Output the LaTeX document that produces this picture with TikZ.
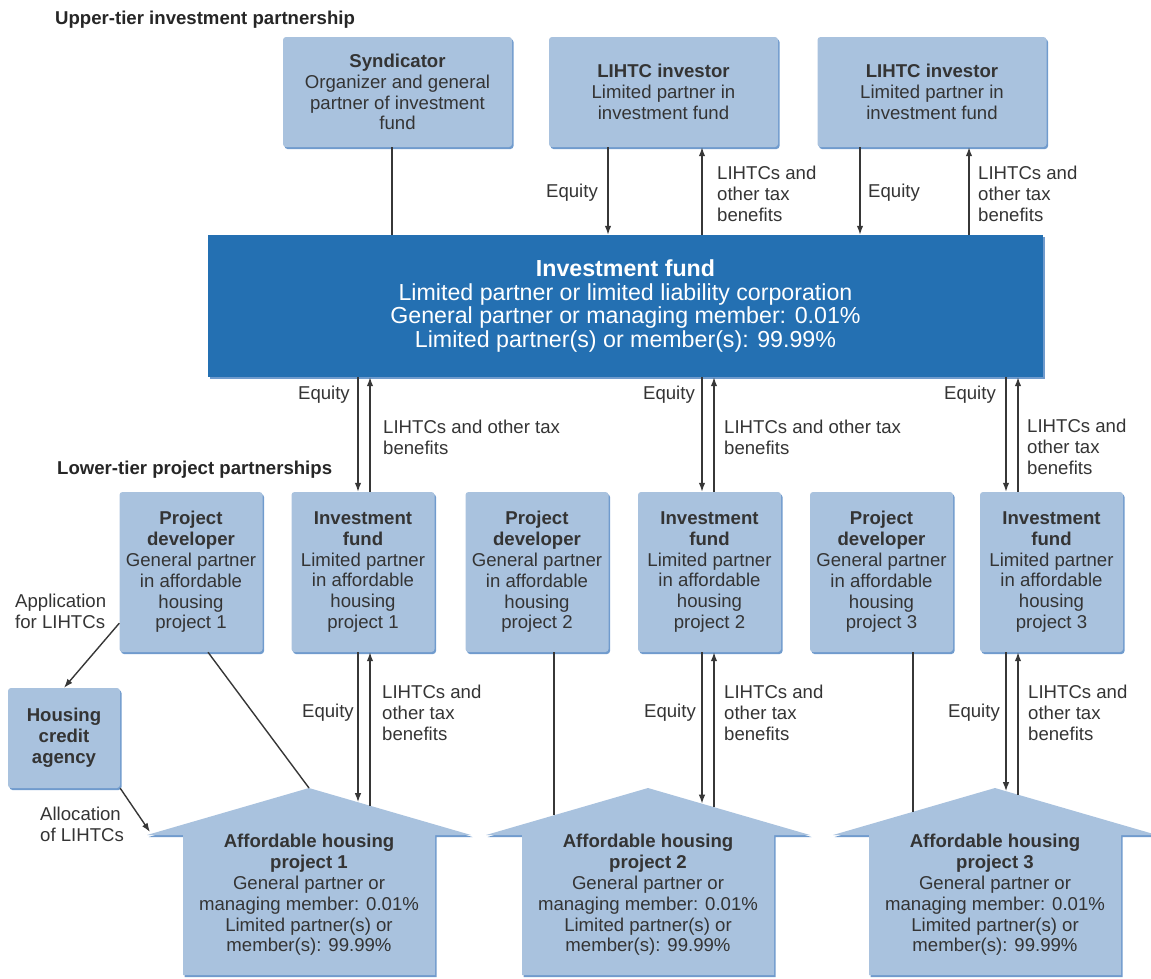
\documentclass[tikz,border=0pt]{standalone}
\usepackage{fontspec}
\setmainfont{Liberation Sans}
\usetikzlibrary{arrows.meta,shadows,calc}
\definecolor{boxc}{RGB}{169,194,222}
\definecolor{shadc}{RGB}{112,155,205}
\definecolor{bigc}{RGB}{36,112,178}
\definecolor{txtc}{RGB}{52,52,52}
\definecolor{linec}{RGB}{55,55,55}
\newcommand{\smallsz}{\fontsize{18.6pt}{20.8pt}\selectfont}
\newcommand{\bigsz}{\fontsize{23.2pt}{23.6pt}\selectfont}
\begin{document}
\begin{tikzpicture}[x=1pt,y=-1pt,
  lbox/.style={fill=boxc, rounded corners=3pt, inner sep=0pt, align=center, text=txtc, font=\smallsz,
    drop shadow={shadow xshift=1.5pt, shadow yshift=-2pt, fill=shadc, opacity=1}},
  topbox/.style={lbox, minimum width=229pt, minimum height=110pt},
  lowbox/.style={lbox, minimum width=143pt, minimum height=160pt},
  bigbox/.style={fill=bigc, text=white, font=\bigsz, align=center, inner sep=0pt,
    minimum width=835pt, minimum height=142pt,
    drop shadow={shadow xshift=1.5pt, shadow yshift=-2pt, fill=shadc, opacity=1}},
  housefill/.style={fill=boxc},
  houseshadow/.style={fill=shadc},
  housetext/.style={font=\smallsz, text=txtc, align=center, inner sep=0pt},
  arr/.style={draw=linec, line width=1.4pt, -{Latex[length=9pt,width=6.5pt]}},
  ln/.style={draw=linec, line width=1.4pt},
  lab/.style={font=\smallsz, text=txtc, align=left, inner sep=0pt},
  hd/.style={font=\smallsz\bfseries, text=black!85, inner sep=0pt}
]
\useasboundingbox (0,0) rectangle (1151,978);

% headers
\node[hd, anchor=west] (hup) at (55,20) {Upper-tier investment partnership};
\node[hd, anchor=west] (hlow) at (57,470) {Lower-tier project partnerships};

% top boxes
\node[topbox] (synd) at (397.5,92) {\textbf{Syndicator}\\Organizer and general\\partner of investment\\fund};
\node[topbox] (inv1) at (663.5,92) {\textbf{LIHTC investor}\\Limited partner in\\investment fund};
\node[topbox] (inv2) at (932,92) {\textbf{LIHTC investor}\\Limited partner in\\investment fund};

% investment fund
\node[bigbox] (fund) at (625.5,306) {\textbf{Investment fund}\\Limited partner or limited liability corporation\\General partner or managing member: 0.01\%\\Limited partner(s) or member(s): 99.99\%};

% lower boxes
\node[lowbox] (PD1) at (191,572) {\textbf{Project}\\\textbf{developer}\\General partner\\in affordable\\housing\\project 1};
\node[lowbox] (IF1) at (363,572) {\textbf{Investment}\\\textbf{fund}\\Limited partner\\in affordable\\housing\\project 1};
\node[lowbox] (PD2) at (537,572) {\textbf{Project}\\\textbf{developer}\\General partner\\in affordable\\housing\\project 2};
\node[lowbox] (IF2) at (709.5,572) {\textbf{Investment}\\\textbf{fund}\\Limited partner\\in affordable\\housing\\project 2};
\node[lowbox] (PD3) at (881.5,572) {\textbf{Project}\\\textbf{developer}\\General partner\\in affordable\\housing\\project 3};
\node[lowbox] (IF3) at (1051.5,572) {\textbf{Investment}\\\textbf{fund}\\Limited partner\\in affordable\\housing\\project 3};

\node[lbox, minimum width=112pt, minimum height=100pt] (HCA) at (64,738) {\textbf{Housing}\\\textbf{credit}\\\textbf{agency}};

% houses
\foreach \cx/\n in {309/1,648/2,995/3}{
  \begin{scope}[shift={(\cx,0)}]
    \path[houseshadow] (-124.5,977) -- (-124.5,837) -- (-160.5,837) -- (1.5,790) -- (163.5,837) -- (127.5,837) -- (127.5,977) -- cycle;
    \path[housefill] (-126,975) -- (-126,835) -- (-162,835) -- (0,788) -- (162,835) -- (126,835) -- (126,975) -- cycle;
    \coordinate (A\n) at (0,788);
  \end{scope}
}
\node[housetext] (H1) at (309,895) {\textbf{Affordable housing}\\\textbf{project 1}\\General partner or\\managing member: 0.01\%\\Limited partner(s) or\\member(s): 99.99\%};
\node[housetext] (H2) at (648,895) {\textbf{Affordable housing}\\\textbf{project 2}\\General partner or\\managing member: 0.01\%\\Limited partner(s) or\\member(s): 99.99\%};
\node[housetext] (H3) at (995,895) {\textbf{Affordable housing}\\\textbf{project 3}\\General partner or\\managing member: 0.01\%\\Limited partner(s) or\\member(s): 99.99\%};

% x positions
\coordinate (xS) at (392,0);
\coordinate (xE1) at (608,0);
\coordinate (xL1) at (702,0);
\coordinate (xE2) at (860,0);
\coordinate (xL2) at (969,0);
\coordinate (m1d) at (358,0);
\coordinate (m1u) at (370,0);
\coordinate (m2d) at (702,0);
\coordinate (m2u) at (714,0);
\coordinate (m3d) at (1006,0);
\coordinate (m3u) at (1018,0);
% roof points
\coordinate (r1d) at (358,802.2);
\coordinate (r1u) at (370,805.7);
\coordinate (r2d) at (702,803.7);
\coordinate (r2u) at (714,807.1);
\coordinate (r3d) at (1006,791.2);
\coordinate (r3u) at (1018,794.7);
\coordinate (r2p) at (554,815.3);
\coordinate (r3p) at (913,811.8);
\coordinate (al) at (150,832);

% upper connectors
\draw[ln] (synd.south -| xS) -- (fund.north -| xS);
\draw[arr] (inv1.south -| xE1) -- (fund.north -| xE1);
\draw[arr] (fund.north -| xL1) -- (inv1.south -| xL1);
\draw[arr] (inv2.south -| xE2) -- (fund.north -| xE2);
\draw[arr] (fund.north -| xL2) -- (inv2.south -| xL2);

% middle connectors
\draw[arr] (fund.south -| m1d) -- (IF1.north -| m1d);
\draw[arr] (IF1.north -| m1u) -- (fund.south -| m1u);
\draw[arr] (fund.south -| m2d) -- (IF2.north -| m2d);
\draw[arr] (IF2.north -| m2u) -- (fund.south -| m2u);
\draw[arr] (fund.south -| m3d) -- (IF3.north -| m3d);
\draw[arr] (IF3.north -| m3u) -- (fund.south -| m3u);

% lower connectors
\draw[arr] (IF1.south -| m1d) -- (r1d);
\draw[arr] (r1u) -- (IF1.south -| m1u);
\draw[arr] (IF2.south -| m2d) -- (r2d);
\draw[arr] (r2u) -- (IF2.south -| m2u);
\draw[arr] (IF3.south -| m3d) -- (r3d);
\draw[arr] (r3u) -- (IF3.south -| m3u);

\draw[ln] ($(PD1.south)+(17,0)$) -- (A1);
\draw[ln] (PD2.south -| r2p) -- (r2p);
\draw[ln] (PD3.south -| r3p) -- (r3p);

\draw[arr] ($(PD1.south west)+(0,-29)$) -- (HCA.north);
\draw[arr] (HCA.south east) -- (al);

% labels
\node[lab, anchor=east] (eq1) at (598,193) {Equity};
\node[lab, anchor=west] (tb1) at (717,194) {LIHTCs and\\other tax\\benefits};
\node[lab, anchor=west] (eq2) at (868,193) {Equity};
\node[lab, anchor=west] (tb2) at (978,194) {LIHTCs and\\other tax\\benefits};

\node[lab, anchor=east] (eq3) at (350,395) {Equity};
\node[lab, anchor=west] (tb3) at (383,437) {LIHTCs and other tax\\benefits};
\node[lab, anchor=east] (eq4) at (695,395) {Equity};
\node[lab, anchor=west] (tb4) at (724,437) {LIHTCs and other tax\\benefits};
\node[lab, anchor=east] (eq5) at (996,395) {Equity};
\node[lab, anchor=west] (tb5) at (1027,447) {LIHTCs and\\other tax\\benefits};

\node[lab, anchor=east] (eq6) at (354,713) {Equity};
\node[lab, anchor=west] (tb6) at (382,713) {LIHTCs and\\other tax\\benefits};
\node[lab, anchor=east] (eq7) at (696,713) {Equity};
\node[lab, anchor=west] (tb7) at (724,713) {LIHTCs and\\other tax\\benefits};
\node[lab, anchor=east] (eq8) at (1000,713) {Equity};
\node[lab, anchor=west] (tb8) at (1028,713) {LIHTCs and\\other tax\\benefits};

\node[lab, anchor=west] (app) at (15,611) {Application\\for LIHTCs};
\node[lab, anchor=west] (alloc) at (40,824) {Allocation\\of LIHTCs};
\end{tikzpicture}
\end{document}
